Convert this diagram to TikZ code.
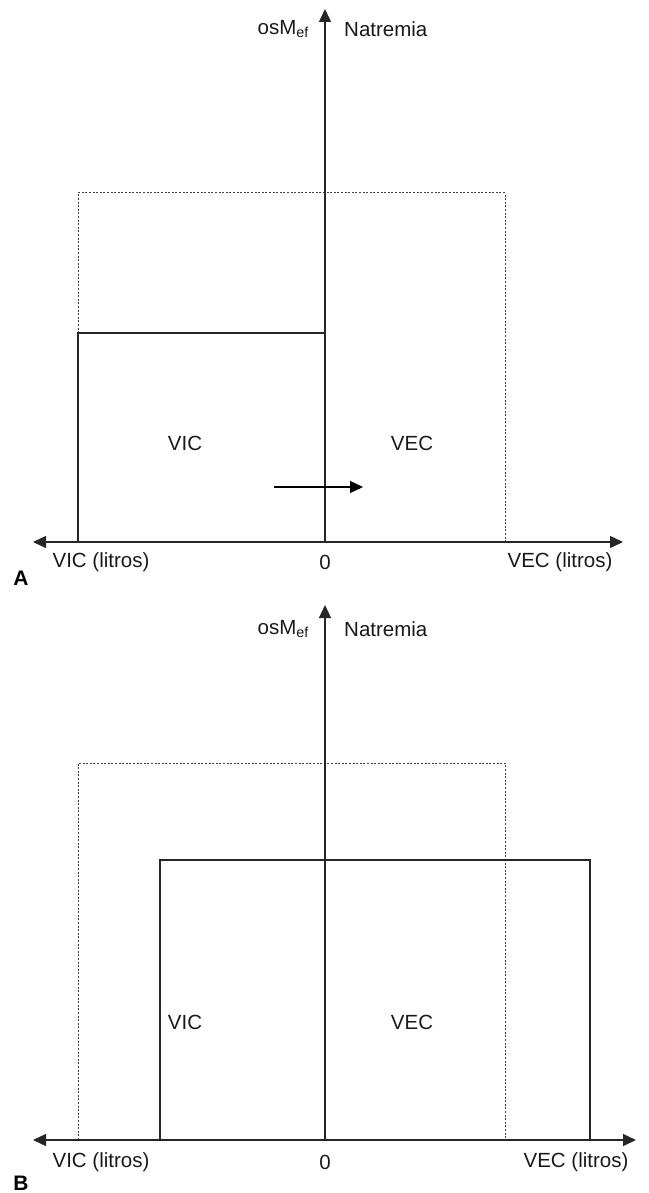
\documentclass[tikz,border=0pt]{standalone}
\usepackage{fontspec}
\setmainfont{Liberation Sans}
\usetikzlibrary{arrows.meta}
\begin{document}
\begin{tikzpicture}[x=1pt,y=-1pt,
  axis/.style={line width=1.3pt,color=black!85,-{Triangle[length=13pt,width=12pt]}},
  baxis/.style={line width=1.3pt,color=black!85,{Triangle[length=13pt,width=12pt]}-{Triangle[length=13pt,width=12pt]}},
  box/.style={line width=1.2pt,color=black!85},
  dotbox/.style={line width=1pt,color=black!75,dash pattern=on 2pt off 1.6pt},
  lbl/.style={font=\fontsize{20.5}{24}\selectfont,inner sep=0pt,text=black!90},
  panel/.style={font=\fontsize{21}{24}\selectfont\bfseries,inner sep=0pt}]
\useasboundingbox (0,0) rectangle (648,1193);
% ---------- Panel A ----------
\coordinate (a0) at (325,542);
\coordinate (atop) at (325,9);
\coordinate (al) at (33,542);
\coordinate (ar) at (623,542);
\draw[dotbox] (78,542) -- (78,193) -- (505,193) -- (505,542);
\draw[box] (78,542) -- (78,333) -- (325,333) -- (325,542);
\draw[line width=1.8pt] (325,333) -- (325,542);
\draw[baxis] (al) -- (ar);
\draw[axis] (a0) -- (atop);
\coordinate (fa) at (274,487);
\coordinate (fb) at (363,487);
\draw[line width=1.1pt,-{Triangle[length=13pt,width=12pt]}] (fa) -- (fb);
\node[lbl,anchor=east] (aosm) at (309,29) {osM\textsubscript{ef}};
\node[lbl,anchor=west] (anat) at (344,29) {Natremia};
\node[lbl] (avic) at (185,443) {VIC};
\node[lbl] (avec) at (412,443) {VEC};
\node[lbl] (avicl) at (101,562) {VIC (litros)};
\node[lbl] (azero) at (325,562) {0};
\node[lbl] (avecl) at (560,562) {VEC (litros)};
\node[panel] (pa) at (21,578) {A};
% ---------- Panel B ----------
\coordinate (b0) at (325,1140);
\coordinate (btop) at (325,605);
\coordinate (bl) at (33,1140);
\coordinate (br) at (636,1140);
\draw[dotbox] (78,1140) -- (78,763) -- (505,763) -- (505,1140);
\draw[box] (160,1140) -- (160,860) -- (590,860) -- (590,1140);
\draw[baxis] (bl) -- (br);
\draw[axis] (b0) -- (btop);
\node[lbl,anchor=east] (bosm) at (309,629) {osM\textsubscript{ef}};
\node[lbl,anchor=west] (bnat) at (344,629) {Natremia};
\node[lbl] (bvic) at (185,1022) {VIC};
\node[lbl] (bvec) at (412,1022) {VEC};
\node[lbl] (bvicl) at (101,1162) {VIC (litros)};
\node[lbl] (bzero) at (325,1162) {0};
\node[lbl] (bvecl) at (576,1162) {VEC (litros)};
\node[panel] (pb) at (21,1183) {B};
\end{tikzpicture}
\end{document}
